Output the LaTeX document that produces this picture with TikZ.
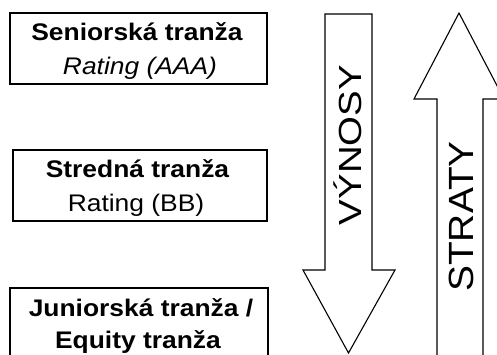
\documentclass[tikz,border=0pt]{standalone}
\usepackage{fontspec}
\setmainfont{Liberation Sans}
\newfontfamily\boxfont[FakeStretch=1.1]{Liberation Sans}
\newfontfamily\vyfont[FakeStretch=1.2]{Liberation Sans}
\newfontfamily\stfont[FakeStretch=1.11]{Liberation Sans}
\begin{document}
\begin{tikzpicture}[x=1pt,y=-1pt,
  tbox/.style={draw=black, line width=1.1pt, fill=white, inner sep=0pt},
  boldtxt/.style={font=\boxfont\bfseries\fontsize{24}{28}\selectfont, anchor=base, inner sep=0pt},
  regtxt/.style={font=\boxfont\fontsize{24}{28}\selectfont, anchor=base, inner sep=0pt},
  arr/.style={draw=black, line width=1.1pt, fill=white, line join=miter}]
\useasboundingbox (0,0) rectangle (497,354);
\clip (0,0) rectangle (497,354);
\fill[white] (0,0) rectangle (497,354);
% boxes
\node[tbox, minimum width=257pt, minimum height=71pt] (b1) at (138.5,48.5) {};
\node[boldtxt] (b1a) at (137,40) {Seniorská tranža};
\node[regtxt] (b1b) at (140,74) {\itshape Rating (AAA)};
\node[tbox, minimum width=254pt, minimum height=71pt] (b2) at (140,185.5) {};
\node[boldtxt] (b2a) at (137.5,177) {Stredná tranža};
\node[regtxt] (b2b) at (136,211) {Rating (BB)};
\node[tbox, minimum width=258pt, minimum height=90pt] (b3) at (139,333) {};
\node[boldtxt] (b3a) at (141,316) {Juniorská tranža /};
\node[boldtxt] (b3b) at (138,348) {Equity tranža};
% down arrow
\draw[arr] (325,14) -- (372,14) -- (372,270) -- (395,270) -- (348.5,353) -- (303,270) -- (325,270) -- cycle;
% up arrow
\draw[arr] (459,13) -- (504,99) -- (483,99) -- (483,370) -- (437,370) -- (437,99) -- (414,99) -- cycle;
% arrow texts
\node[font=\vyfont\fontsize{32}{36}\selectfont, rotate=90, anchor=base, inner sep=0pt] (vy) at (361,145) {VÝNOSY};
\node[font=\stfont\fontsize{35}{40}\selectfont, rotate=90, anchor=base, inner sep=0pt] (st) at (473.5,216.5) {STRATY};
\end{tikzpicture}
\end{document}
